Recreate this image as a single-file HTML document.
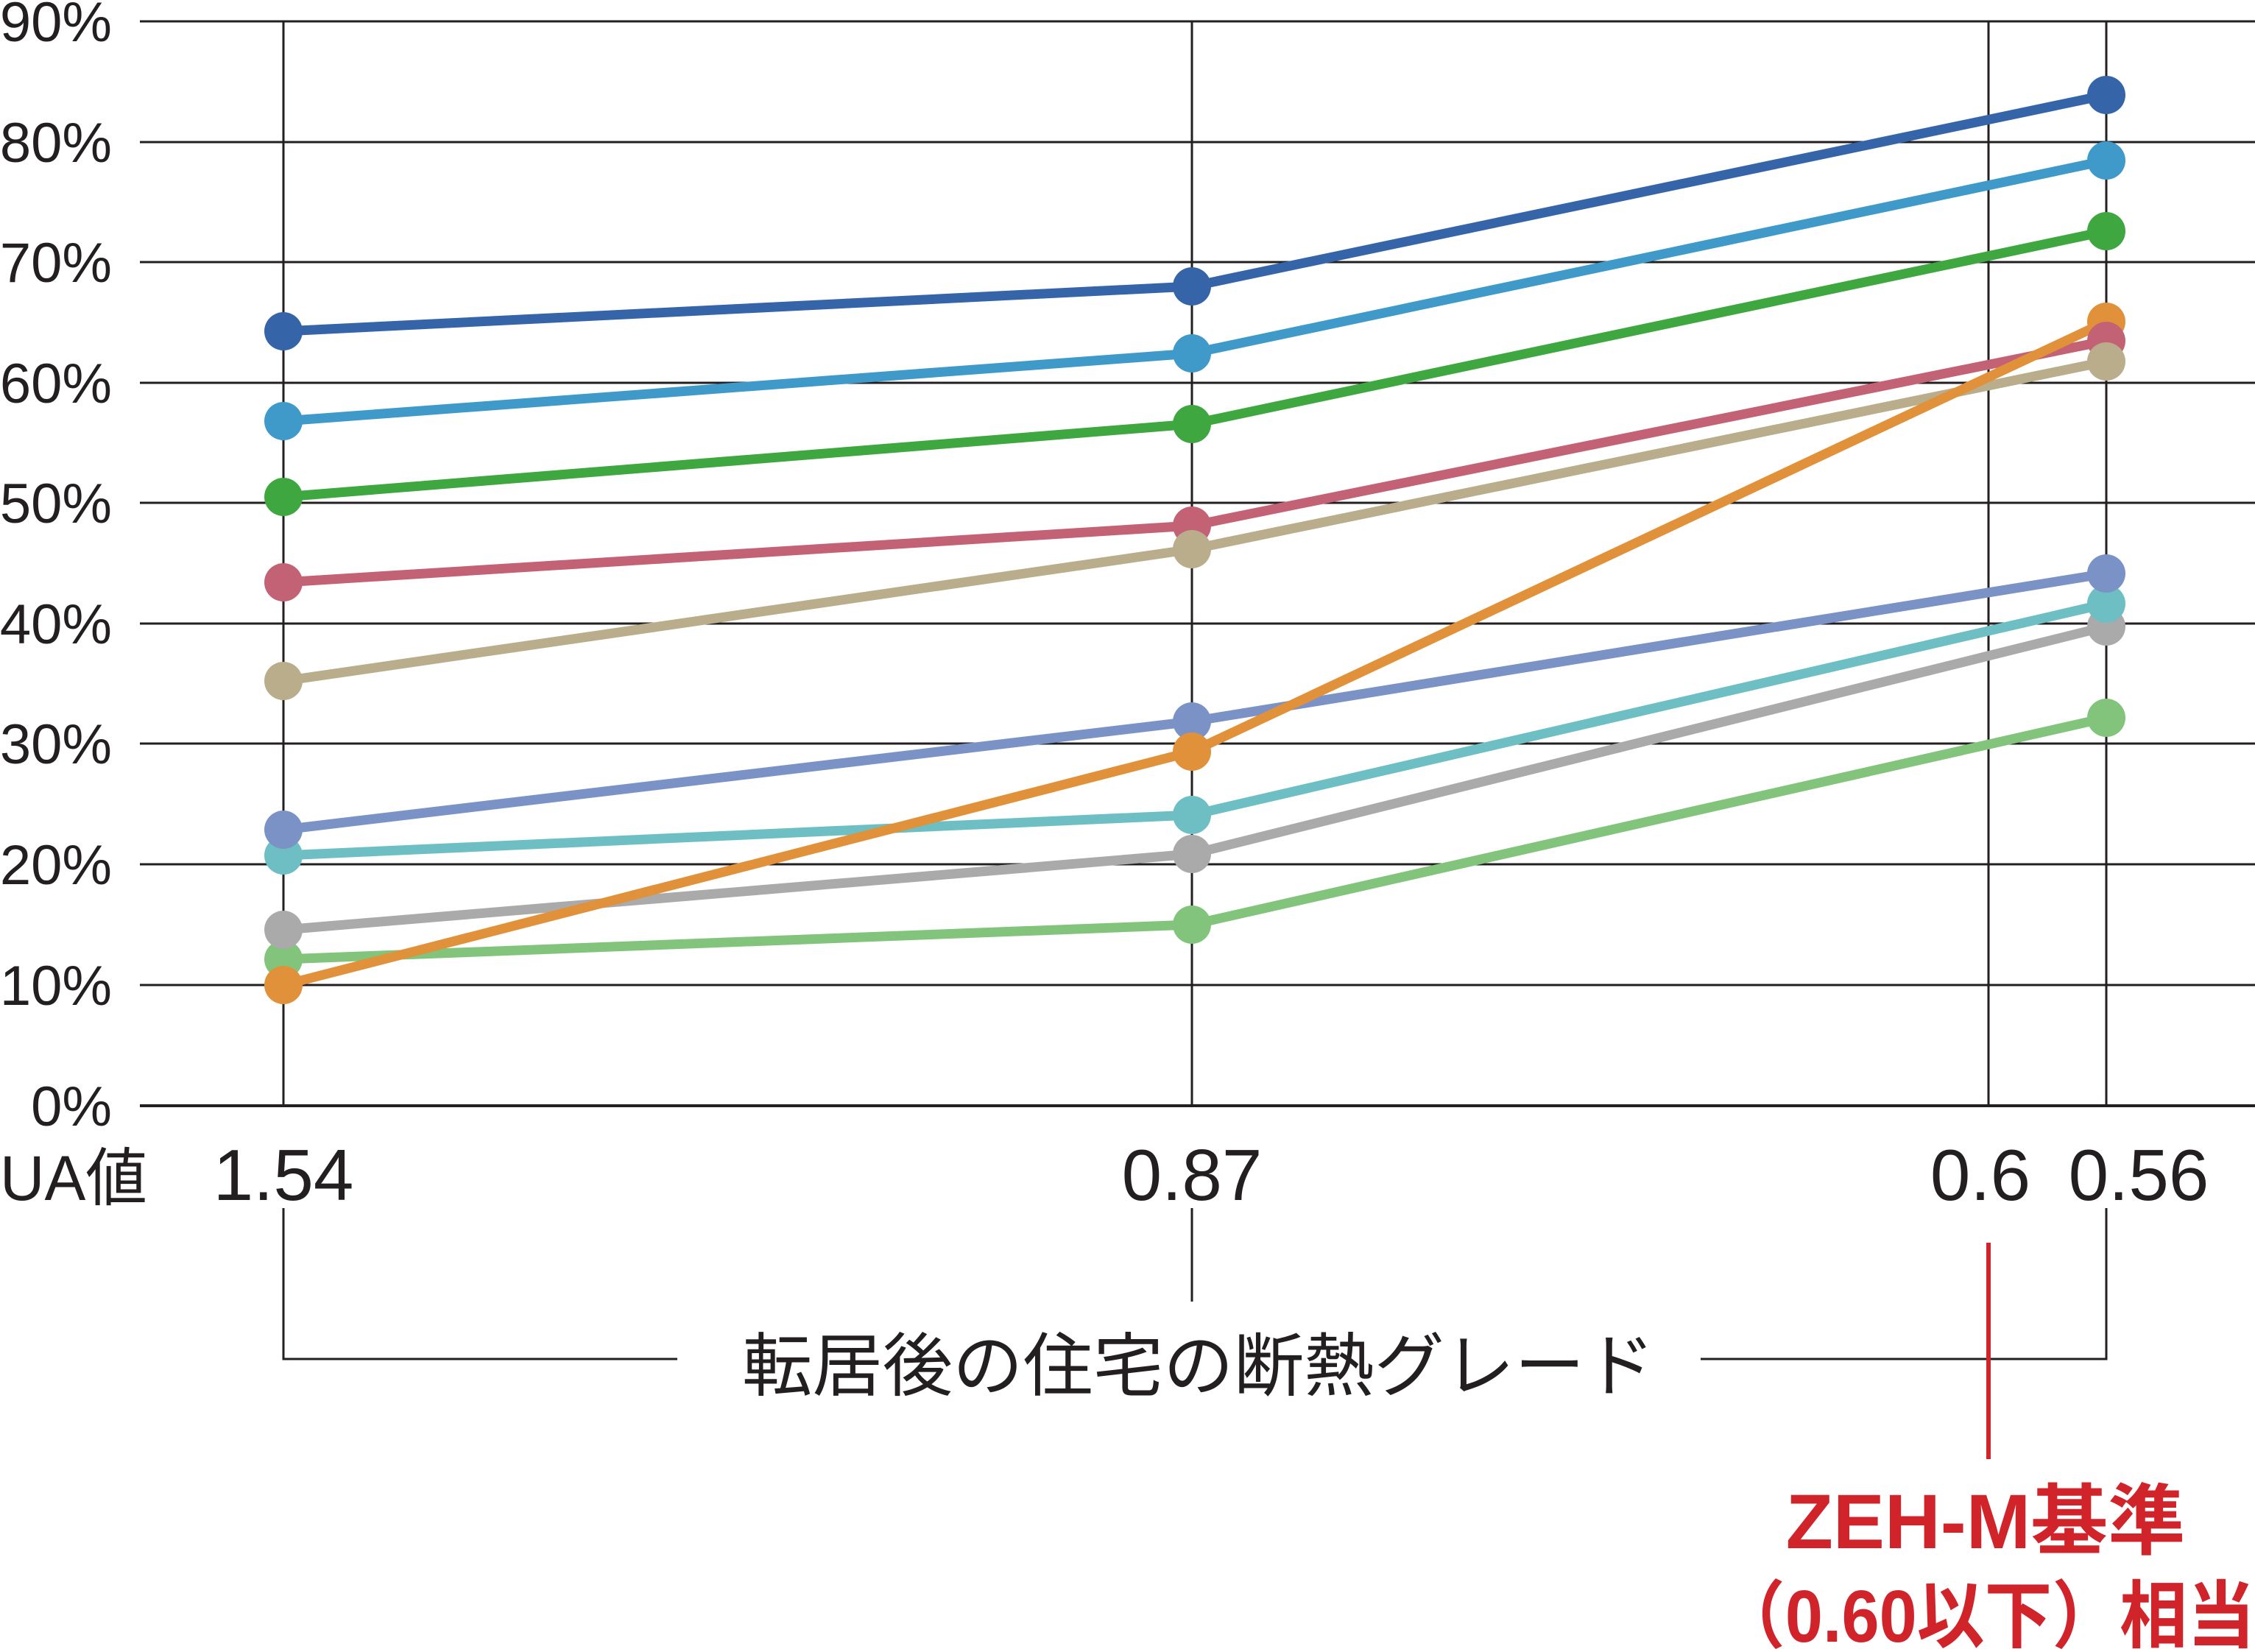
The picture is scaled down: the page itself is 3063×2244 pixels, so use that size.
<!DOCTYPE html>
<html><head><meta charset="utf-8"><style>
html,body{margin:0;padding:0;background:#fff;}
svg{display:block;}
.t{font-family:"Liberation Sans Narrow","Liberation Sans",sans-serif;fill:#231f20;}
.j{font-family:"Liberation Sans","Noto Sans CJK JP",sans-serif;fill:#231f20;}
</style></head><body>
<svg width="3063" height="2244" viewBox="0 0 3063 2244" xmlns="http://www.w3.org/2000/svg">
<g stroke="#231f20" stroke-width="3">
<line x1="190" y1="29" x2="3063" y2="29"/>
<line x1="190" y1="193" x2="3063" y2="193"/>
<line x1="190" y1="356" x2="3063" y2="356"/>
<line x1="190" y1="520" x2="3063" y2="520"/>
<line x1="190" y1="683" x2="3063" y2="683"/>
<line x1="190" y1="847" x2="3063" y2="847"/>
<line x1="190" y1="1010" x2="3063" y2="1010"/>
<line x1="190" y1="1174" x2="3063" y2="1174"/>
<line x1="190" y1="1338" x2="3063" y2="1338"/>
<line x1="190" y1="1502" x2="3063" y2="1502" stroke-width="4"/>
<line x1="385" y1="29" x2="385" y2="1502"/>
<line x1="1619" y1="29" x2="1619" y2="1502"/>
<line x1="2701" y1="29" x2="2701" y2="1502"/>
<line x1="2861" y1="29" x2="2861" y2="1502"/>
<polyline fill="none" points="385,1641 385,1846 920,1846"/>
<polyline fill="none" points="2310,1846 2861,1846 2861,1641"/>
<line x1="1619" y1="1641" x2="1619" y2="1768"/>
</g>
<line x1="2701" y1="1688" x2="2701" y2="1982" stroke="#d0242a" stroke-width="6"/>
<g class="t" font-size="76" text-anchor="end">
<text x="152" y="56">90%</text>
<text x="152" y="220">80%</text>
<text x="152" y="383">70%</text>
<text x="152" y="547">60%</text>
<text x="152" y="710">50%</text>
<text x="152" y="874">40%</text>
<text x="152" y="1037">30%</text>
<text x="152" y="1201">20%</text>
<text x="152" y="1365">10%</text>
<text x="152" y="1529">0%</text>
</g>
<g class="t" font-size="98" text-anchor="middle">
<text x="385" y="1630">1.54</text>
<text x="1619" y="1630">0.87</text>
<text x="2690" y="1630">0.6</text>
<text x="2905" y="1630">0.56</text>
</g>
<text class="j" x="0" y="1630" font-size="86" textLength="200" lengthAdjust="spacingAndGlyphs">UA値</text>
<text class="j" x="1628" y="1888" font-size="94" text-anchor="middle" textLength="1240" lengthAdjust="spacingAndGlyphs">転居後の住宅の断熱グレード</text>
<text class="j" x="2697" y="2103" font-size="105" font-weight="bold" text-anchor="middle" style="fill:#d0242a">ZEH-M基準</text>
<text class="j" x="3063" y="2230" font-size="100" font-weight="bold" text-anchor="end" style="fill:#d0242a" textLength="730" lengthAdjust="spacingAndGlyphs">（0.60以下）相当</text>
<g fill="none" stroke-width="13" stroke-linejoin="round">
<polyline stroke="#82c47c" points="385,1303 1619,1256 2861,975"/>
<polyline stroke="#aaaaaa" points="385,1263 1619,1160 2861,851"/>
<polyline stroke="#6ebfc3" points="385,1162 1619,1107 2861,820"/>
<polyline stroke="#7a92c5" points="385,1127 1619,980 2861,779"/>
<polyline stroke="#b9ad8c" points="385,925 1619,746 2861,491"/>
<polyline stroke="#c46275" points="385,791 1619,714 2861,463"/>
<polyline stroke="#e0913a" points="385,1338 1619,1021 2861,437"/>
<polyline stroke="#3fa73f" points="385,675 1619,576 2861,314"/>
<polyline stroke="#3f9ac9" points="385,572 1619,480 2861,218"/>
<polyline stroke="#3565a8" points="385,450 1619,389 2861,129"/>
</g>
<g>
<g fill="#82c47c"><circle cx="385" cy="1303" r="26"/><circle cx="1619" cy="1256" r="26"/><circle cx="2861" cy="975" r="26"/></g>
<g fill="#aaaaaa"><circle cx="385" cy="1263" r="26"/><circle cx="1619" cy="1160" r="26"/><circle cx="2861" cy="851" r="26"/></g>
<g fill="#6ebfc3"><circle cx="385" cy="1162" r="26"/><circle cx="1619" cy="1107" r="26"/><circle cx="2861" cy="820" r="26"/></g>
<g fill="#7a92c5"><circle cx="385" cy="1127" r="26"/><circle cx="1619" cy="980" r="26"/><circle cx="2861" cy="779" r="26"/></g>
<g fill="#e0913a"><circle cx="385" cy="1338" r="26"/><circle cx="1619" cy="1021" r="26"/><circle cx="2861" cy="437" r="26"/></g>
<g fill="#c46275"><circle cx="385" cy="791" r="26"/><circle cx="1619" cy="714" r="26"/><circle cx="2861" cy="463" r="26"/></g>
<g fill="#b9ad8c"><circle cx="385" cy="925" r="26"/><circle cx="1619" cy="746" r="26"/><circle cx="2861" cy="491" r="26"/></g>
<g fill="#3fa73f"><circle cx="385" cy="675" r="26"/><circle cx="1619" cy="576" r="26"/><circle cx="2861" cy="314" r="26"/></g>
<g fill="#3f9ac9"><circle cx="385" cy="572" r="26"/><circle cx="1619" cy="480" r="26"/><circle cx="2861" cy="218" r="26"/></g>
<g fill="#3565a8"><circle cx="385" cy="450" r="26"/><circle cx="1619" cy="389" r="26"/><circle cx="2861" cy="129" r="26"/></g>
</g>
</svg>
</body></html>
